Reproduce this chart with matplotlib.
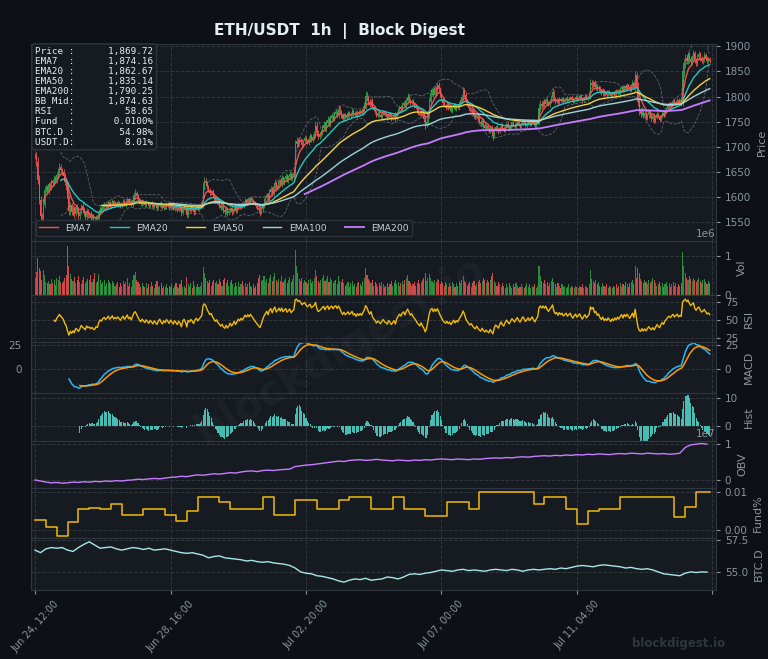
import numpy as np
import pandas as pd
import matplotlib
matplotlib.use('Agg')
import matplotlib.pyplot as plt
from matplotlib.ticker import FixedLocator, FuncFormatter

# colours
BG = '#0d1117'
PANEL = '#161b22'
GRID = '#30363d'
TXT = '#8b949e'
UP = '#2ea043'
DOWN = '#f0524f'

# hourly closes, offset from 1500
close_off = [
    182, 170, 135, 95, 62, 58, 85, 115, 120, 112, 126, 120, 132, 128, 138, 134, 145, 152, 160, 154,
    150, 143, 130, 122, 96, 72, 84, 70, 78, 66, 80, 74, 62, 70, 82, 75, 68, 60, 72, 64,
    66, 58, 62, 54, 52, 60, 56, 70, 78, 74, 82, 86, 80, 84, 90, 82, 86, 92, 84, 88,
    85, 90, 86, 82, 88, 92, 85, 90, 96, 88, 92, 86, 95, 104, 108, 102, 96, 90, 86, 92,
    88, 84, 90, 86, 82, 88, 84, 80, 86, 82, 78, 84, 88, 82, 78, 84, 80, 86, 82, 78,
    84, 80, 76, 82, 78, 74, 80, 76, 68, 78, 82, 76, 64, 78, 74, 80, 76, 70, 78, 82,
    76, 80, 84, 88, 122, 132, 128, 120, 114, 108, 112, 104, 98, 92, 96, 88, 84, 78, 82, 74,
    70, 76, 68, 72, 78, 70, 74, 80, 72, 78, 84, 80, 86, 82, 88, 94, 90, 96, 92, 98,
    94, 90, 86, 82, 78, 74, 70, 76, 84, 92, 98, 104, 98, 110, 116, 108, 120, 128, 118, 124,
    132, 126, 138, 130, 136, 142, 134, 140, 146, 138, 144, 148, 205, 212, 206, 214, 210, 204, 212, 218,
    212, 208, 216, 222, 214, 220, 226, 242, 228, 220, 224, 230, 238, 244, 236, 248, 254, 246, 258, 262,
    256, 266, 270, 264, 276, 270, 262, 256, 264, 258, 262, 268, 262, 266, 272, 264, 268, 262, 270, 266,
    272, 268, 276, 284, 302, 298, 290, 284, 292, 280, 274, 270, 262, 268, 264, 260, 266, 270, 264, 262,
    258, 266, 262, 256, 260, 264, 256, 268, 274, 280, 276, 284, 288, 282, 292, 300, 294, 288, 292, 286,
    282, 278, 272, 268, 264, 270, 262, 256, 244, 250, 266, 290, 306, 312, 304, 316, 310, 322, 314, 304,
    296, 288, 282, 278, 284, 276, 280, 272, 278, 284, 276, 282, 278, 286, 292, 300, 312, 304, 292, 284,
    278, 272, 276, 268, 262, 258, 264, 256, 250, 246, 252, 244, 238, 242, 236, 232, 238, 230, 222, 234,
    240, 236, 230, 238, 244, 236, 232, 240, 246, 240, 236, 242, 248, 244, 240, 246, 250, 244, 240, 246,
    252, 248, 242, 246, 250, 244, 248, 252, 246, 242, 248, 252, 278, 286, 282, 290, 286, 294, 288, 284,
    292, 298, 308, 296, 290, 294, 288, 296, 292, 296, 290, 294, 298, 292, 296, 300, 294, 290, 296, 300,
    294, 298, 302, 296, 292, 298, 302, 296, 300, 304, 326, 322, 328, 318, 322, 314, 318, 310, 306, 312,
    304, 308, 304, 310, 306, 302, 308, 304, 310, 306, 312, 308, 314, 318, 312, 320, 316, 322, 318, 314,
    320, 326, 318, 342, 320, 290, 272, 266, 274, 262, 268, 258, 264, 270, 262, 256, 262, 252, 258, 266,
    260, 254, 262, 268, 262, 272, 276, 282, 286, 282, 288, 292, 286, 290, 294, 288, 292, 290, 350, 366,
    376, 370, 382, 374, 368, 378, 386, 372, 366, 378, 384, 376, 370, 374, 382, 376, 370, 374, 369.72,
]

# wick length beyond the candle body, dollars
wick = [
    6, 8, 9, 9, 8, 7, 8, 6, 5, 4, 5, 4, 5, 4, 6, 4, 5, 6, 7, 5,
    5, 6, 6, 7, 9, 8, 7, 5, 6, 5, 4, 6, 7, 5, 4, 6, 5, 4, 6, 5,
    5, 6, 4, 5, 7, 4, 5, 6, 4, 3, 4, 5, 3, 4, 5, 3, 4, 5, 3, 4,
    3, 4, 3, 4, 3, 5, 3, 4, 5, 3, 4, 3, 5, 7, 8, 5, 4, 3, 3, 4,
    3, 3, 4, 2, 3, 3, 4, 3, 2, 3, 4, 2, 3, 4, 2, 3, 3, 4, 2, 3,
    3, 4, 2, 3, 4, 3, 2, 4, 5, 3, 3, 2, 6, 4, 3, 4, 2, 5, 3, 3,
    4, 3, 3, 5, 9, 8, 6, 5, 4, 5, 3, 4, 5, 4, 5, 3, 5, 4, 3, 5,
    6, 4, 5, 3, 4, 5, 3, 3, 4, 3, 4, 3, 3, 4, 3, 4, 3, 3, 4, 3,
    3, 3, 2, 3, 4, 6, 7, 4, 5, 6, 4, 5, 4, 6, 7, 5, 6, 8, 5, 4,
    5, 4, 6, 4, 5, 6, 4, 5, 6, 4, 5, 7, 9, 8, 6, 5, 4, 5, 4, 5,
    4, 3, 5, 6, 4, 5, 6, 9, 7, 5, 4, 5, 6, 7, 5, 6, 7, 5, 6, 5,
    4, 5, 6, 4, 7, 5, 4, 5, 4, 3, 3, 4, 3, 4, 5, 3, 4, 3, 4, 4,
    3, 3, 5, 6, 9, 7, 6, 5, 4, 5, 3, 4, 3, 3, 4, 3, 4, 3, 3, 3,
    4, 3, 3, 5, 3, 4, 5, 3, 4, 3, 4, 5, 3, 5, 6, 7, 5, 4, 3, 3,
    4, 3, 4, 5, 3, 4, 5, 6, 8, 5, 6, 8, 7, 5, 4, 6, 5, 7, 6, 4,
    5, 4, 3, 4, 3, 3, 4, 3, 4, 3, 3, 4, 3, 5, 4, 5, 7, 5, 4, 3,
    3, 4, 3, 4, 5, 3, 3, 4, 5, 4, 5, 6, 5, 4, 5, 4, 5, 6, 8, 5,
    4, 3, 4, 3, 3, 4, 3, 2, 3, 3, 4, 3, 2, 3, 3, 4, 3, 2, 3, 3,
    3, 2, 3, 4, 3, 3, 2, 3, 3, 4, 2, 3, 9, 7, 5, 4, 5, 3, 4, 3,
    4, 5, 8, 5, 4, 3, 4, 3, 2, 3, 3, 3, 2, 3, 3, 2, 3, 3, 2, 3,
    3, 2, 3, 3, 4, 2, 3, 3, 2, 3, 9, 6, 5, 4, 5, 3, 4, 3, 3, 4,
    3, 3, 4, 2, 3, 3, 2, 3, 3, 4, 2, 3, 4, 3, 4, 3, 5, 4, 3, 4,
    5, 6, 4, 9, 7, 9, 8, 6, 5, 4, 5, 5, 4, 6, 4, 5, 6, 5, 4, 3,
    3, 4, 3, 4, 3, 3, 4, 3, 4, 3, 3, 4, 3, 4, 3, 3, 3, 4, 9, 9,
    8, 6, 6, 7, 6, 5, 6, 5, 5, 6, 6, 5, 4, 5, 6, 5, 4, 5, 4,
]

# hourly volume, units of 1e4
vol_1e4 = [
    45, 60, 95, 70, 62, 40, 66, 52, 34, 30, 36, 28, 42, 32, 38, 26, 44, 38, 50, 34,
    30, 36, 44, 52, 128, 75, 54, 42, 36, 46, 30, 40, 50, 34, 28, 38, 46, 30, 36, 42,
    38, 52, 34, 42, 58, 30, 36, 54, 40, 28, 34, 38, 24, 30, 40, 34, 28, 36, 30, 24,
    28, 34, 22, 30, 24, 36, 28, 34, 44, 24, 30, 22, 38, 52, 60, 40, 34, 28, 22, 30,
    24, 22, 30, 18, 28, 22, 34, 24, 18, 28, 36, 22, 24, 30, 18, 24, 22, 28, 18, 24,
    22, 28, 18, 24, 30, 22, 18, 28, 40, 22, 24, 18, 46, 28, 22, 30, 18, 36, 24, 22,
    28, 22, 24, 34, 72, 58, 44, 36, 30, 38, 24, 34, 40, 30, 36, 28, 42, 34, 24, 38,
    44, 30, 38, 24, 34, 40, 28, 22, 30, 24, 34, 22, 28, 36, 24, 30, 22, 28, 34, 24,
    22, 28, 18, 24, 30, 44, 52, 36, 40, 50, 34, 42, 30, 44, 52, 36, 46, 56, 38, 34,
    42, 36, 50, 34, 40, 44, 30, 38, 46, 34, 42, 52, 118, 76, 56, 42, 36, 44, 30, 40,
    34, 28, 38, 42, 30, 36, 44, 66, 50, 36, 30, 38, 44, 52, 36, 42, 50, 34, 44, 38,
    30, 36, 40, 28, 50, 36, 34, 42, 30, 24, 28, 34, 22, 30, 36, 24, 28, 22, 30, 34,
    28, 24, 36, 44, 70, 52, 42, 36, 30, 38, 24, 34, 28, 22, 30, 24, 34, 28, 22, 24,
    30, 22, 28, 36, 24, 30, 38, 28, 34, 24, 30, 36, 28, 38, 44, 52, 36, 30, 24, 28,
    34, 24, 30, 38, 28, 34, 40, 44, 58, 36, 44, 54, 44, 36, 30, 40, 34, 42, 38, 28,
    36, 30, 24, 34, 28, 22, 30, 24, 34, 28, 22, 30, 24, 36, 30, 38, 50, 36, 30, 24,
    28, 34, 22, 30, 36, 24, 28, 34, 40, 30, 36, 44, 38, 30, 40, 34, 38, 50, 56, 36,
    30, 24, 34, 28, 22, 30, 24, 18, 28, 22, 30, 24, 18, 28, 22, 30, 24, 18, 22, 28,
    22, 18, 24, 30, 22, 28, 18, 24, 22, 28, 18, 24, 74, 50, 36, 30, 38, 28, 34, 24,
    30, 36, 44, 34, 28, 22, 30, 24, 18, 28, 22, 24, 18, 22, 28, 18, 24, 22, 18, 24,
    22, 18, 24, 22, 28, 18, 24, 22, 18, 28, 64, 42, 36, 30, 38, 28, 34, 24, 22, 30,
    24, 22, 28, 18, 24, 22, 18, 24, 22, 28, 18, 24, 30, 22, 28, 24, 34, 28, 22, 30,
    34, 38, 28, 74, 44, 70, 56, 42, 36, 30, 38, 34, 28, 40, 30, 36, 44, 38, 30, 24,
    28, 34, 24, 30, 22, 28, 34, 24, 30, 22, 28, 34, 24, 30, 22, 28, 24, 30, 112, 76,
    56, 44, 40, 50, 42, 36, 44, 38, 34, 40, 44, 36, 30, 38, 42, 34, 28, 36, 30,
]

# on-balance volume every 4 hours, units of 1e5
obv_4h = [
    0, -3, -6, -8, -7, -9, -8, -6, -7, -5, -6, -4, -5, -3, -4, -2, -3, -1, 0, 2,
    1, 3, 4, 3, 5, 7, 8, 10, 9, 12, 14, 13, 15, 17, 16, 18, 20, 19, 22, 24,
    25, 23, 26, 27, 26, 28, 29, 30, 37, 39, 41, 42, 44, 46, 48, 50, 52, 51, 54, 55,
    56, 54, 55, 57, 55, 54, 53, 55, 54, 53, 55, 54, 56, 55, 57, 58, 57, 56, 58, 57,
    56, 58, 57, 59, 60, 61, 60, 62, 61, 63, 64, 63, 65, 66, 67, 66, 68, 67, 69, 68,
    70, 69, 71, 70, 72, 71, 70, 72, 73, 72, 74, 73, 72, 74, 73, 72, 73, 71, 72, 74,
    90, 97, 99, 101, 99,
]

# BTC dominance every 4 hours, in hundredths of a percent
btcd_4h = [
    5670, 5650, 5680, 5690, 5685, 5690, 5670, 5660, 5690, 5715, 5735, 5710, 5685, 5690, 5695, 5680,
    5670, 5680, 5690, 5685, 5675, 5685, 5670, 5675, 5680, 5670, 5660, 5650, 5645, 5650, 5640, 5630,
    5610, 5620, 5625, 5610, 5605, 5600, 5595, 5585, 5590, 5580, 5575, 5580, 5570, 5565, 5560, 5550,
    5530, 5500, 5490, 5485, 5470, 5465, 5455, 5445, 5430, 5420, 5435, 5445, 5440, 5450, 5435, 5440,
    5445, 5460, 5455, 5445, 5460, 5480, 5485, 5480, 5490, 5495, 5505, 5515, 5510, 5505, 5515, 5520,
    5510, 5515, 5510, 5505, 5515, 5520, 5515, 5510, 5520, 5515, 5505, 5515, 5520, 5515, 5520, 5525,
    5520, 5530, 5525, 5535, 5545, 5550, 5545, 5540, 5550, 5555, 5550, 5545, 5540, 5530, 5535, 5525,
    5520, 5525, 5515, 5500, 5485, 5480, 5475, 5470, 5490, 5500, 5495, 5500, 5498,
]

# funding rate (%) per 8h period
fund_8h = [
    0.0026, 0.0008, -0.0015, 0.0020, 0.0054, 0.0056, 0.0054, 0.0067, 0.0040, 0.0040,
    0.0054, 0.0054, 0.0040, 0.0023, 0.0049, 0.0087, 0.0087, 0.0072, 0.0054, 0.0054,
    0.0054, 0.0087, 0.0040, 0.0040, 0.0079, 0.0079, 0.0054, 0.0054, 0.0079, 0.0087,
    0.0087, 0.0054, 0.0054, 0.0087, 0.0054, 0.0054, 0.0036, 0.0036, 0.0072, 0.0072,
    0.0054, 0.0100, 0.0100, 0.0100, 0.0100, 0.0100, 0.0067, 0.0087, 0.0087, 0.0054,
    0.0015, 0.0049, 0.0054, 0.0054, 0.0087, 0.0087, 0.0087, 0.0087, 0.0087, 0.0033,
    0.0059, 0.0100, 0.0100,
]

info_rows = [
    ('Price ', '1,869.72'), ('EMA7  ', '1,874.16'), ('EMA20 ', '1,862.67'),
    ('EMA50 ', '1,835.14'), ('EMA200', '1,790.25'), ('BB Mid', '1,874.63'),
    ('RSI   ', '58.65'), ('Fund  ', '0.0100%'), ('BTC.D ', '54.98%'), ('USDT.D', '8.01%'),
]

ema_periods = [7, 20, 50, 100, 200]
ema_colors = ['#ef5350', '#26c6bf', '#f5d142', '#9fd3d9', '#c77dff']

close = np.array(close_off, dtype=float) + 1500
volume = np.array(vol_1e4, dtype=float) * 1e4
n = len(close)
x = np.arange(n)
times = pd.date_range('2023-06-24 12:00', periods=n, freq='h')
opens = np.r_[close[0], close[:-1]]
high = np.maximum(opens, close) + np.array(wick)
low = np.minimum(opens, close) - np.array(wick)

s = pd.Series(close)
emas = [s.ewm(span=p, min_periods=p).mean() for p in ema_periods]
mid = s.rolling(20).mean()
sd = s.rolling(20).std(ddof=0)
bb_up = mid + 2 * sd
bb_lo = mid - 2 * sd

delta = s.diff()
gain = delta.clip(lower=0).ewm(alpha=1 / 14, min_periods=14).mean()
loss = (-delta.clip(upper=0)).ewm(alpha=1 / 14, min_periods=14).mean()
rsi = 100 - 100 / (1 + gain / loss)

ema12 = s.ewm(span=12, adjust=False, min_periods=12).mean()
ema26 = s.ewm(span=26, adjust=False, min_periods=26).mean()
macd = ema12 - ema26
signal = macd.ewm(span=9, adjust=False, min_periods=9).mean()
hist = macd - signal

obv = np.array(obv_4h) * 1e5
x4 = np.arange(len(obv_4h)) * 4
fund = np.repeat(fund_8h, 8)[:n]
btcd = np.array(btcd_4h) / 100
x_btcd = np.arange(len(btcd)) * 4

up = close >= opens
cols = np.where(up, UP, DOWN)

fig = plt.figure(figsize=(7.68, 6.59), dpi=100, facecolor=BG)
gs = fig.add_gridspec(8, 1, height_ratios=[197, 54, 47, 51, 48, 47, 50, 52], hspace=0,
                      left=0.0404, right=0.932, top=0.933, bottom=0.105)
axes = [fig.add_subplot(gs[0])]
for i in range(1, 8):
    axes.append(fig.add_subplot(gs[i], sharex=axes[0]))
ax_p, ax_v, ax_r, ax_m, ax_h, ax_o, ax_f, ax_b = axes

for ax in axes:
    ax.set_facecolor(PANEL)
    ax.grid(True, color=GRID, linestyle='--', linewidth=0.7)
    ax.set_axisbelow(True)
    ax.yaxis.tick_right()
    ax.yaxis.set_label_position('right')
    ax.tick_params(colors=TXT, labelsize=7.5, length=3)
    ax.yaxis.offsetText.set_color(TXT)
    ax.yaxis.offsetText.set_fontsize(7.5)
    for sp in ax.spines.values():
        sp.set_color(GRID)

# price
body_lo = np.minimum(opens, close)
body_h = np.maximum(np.abs(close - opens), 0.4)
ax_p.vlines(x, low, high, colors=cols, lw=0.6)
ax_p.bar(x, body_h, bottom=body_lo, width=0.75, color=cols, linewidth=0)
ax_p.plot(x, bb_up, color='#8b949e', lw=0.6, ls='--', alpha=0.6)
ax_p.plot(x, bb_lo, color='#8b949e', lw=0.6, ls='--', alpha=0.6)
for e, p, c in zip(emas, ema_periods, ema_colors):
    ax_p.plot(x, e, color=c, lw=1.3 if p == 200 else 1.0, label=f'EMA{p}')
ax_p.set_ylim(1513, 1904)
ax_p.set_yticks(np.arange(1550, 1901, 50))
ax_p.set_ylabel('Price', color=TXT, fontsize=8)
ax_p.legend(loc='lower left', ncol=5, fontsize=6.7, facecolor=PANEL, edgecolor=GRID,
            labelcolor='#c9d1d9', framealpha=0.9)
info = '\n'.join(f'{k}:{v:>14}' for k, v in info_rows)
ax_p.text(0.006, 0.985, info, transform=ax_p.transAxes, va='top', ha='left',
          family='DejaVu Sans Mono', fontsize=6.7, color='#e6edf3', linespacing=1.15,
          bbox=dict(boxstyle='round,pad=0.35', fc=PANEL, ec=GRID, alpha=0.95))

# volume
ax_v.bar(x, volume, width=0.8, color=cols, linewidth=0, alpha=0.85)
ax_v.set_ylim(0, 1.4e6)
ax_v.set_yticks([0, 1e6])
ax_v.set_ylabel('Vol', color=TXT, fontsize=8)

# rsi
ax_r.plot(x, rsi, color='#f0b90b', lw=1.0)
ax_r.set_ylim(19, 85)
ax_r.set_yticks([25, 50, 75])
ax_r.set_ylabel('RSI', color=TXT, fontsize=8)

# macd
ax_m.plot(x, macd, color='#29b6f6', lw=1.1)
ax_m.plot(x, signal, color='#ff9800', lw=1.1)
ax_m.set_ylim(-25, 28)
ax_m.set_yticks([0, 25])
ax_m.tick_params(labelleft=True)
ax_m.set_ylabel('MACD', color=TXT, fontsize=8)

# histogram
ax_h.bar(x, hist, width=0.8, color='#4dd0c4', linewidth=0, alpha=0.9)
ax_h.set_ylim(-5.4, 11.8)
ax_h.set_yticks([0, 10])
ax_h.set_ylabel('Hist', color=TXT, fontsize=8)

# obv
ax_o.plot(x4, obv, color='#c77dff', lw=1.0)
ax_o.set_ylim(-0.22e7, 1.08e7)
ax_o.set_yticks([0, 1e7])
ax_o.set_ylabel('OBV', color=TXT, fontsize=8)

# funding
ax_f.step(x, fund, where='post', color='#f0b90b', lw=1.1)
ax_f.set_ylim(-0.0021, 0.0110)
ax_f.set_yticks([0, 0.01])
ax_f.yaxis.set_major_formatter(FuncFormatter(lambda v, _: f'{v:.2f}'))
ax_f.set_ylabel('Fund%', color=TXT, fontsize=8)

# btc dominance
ax_b.plot(x_btcd, btcd, color='#a8e6e2', lw=1.0)
ax_b.set_ylim(53.6, 57.66)
ax_b.set_yticks([55.0, 57.5])
ax_b.set_ylabel('BTC.D', color=TXT, fontsize=8)

ax_b.set_xlim(-3, 502.5)
ax_b.xaxis.set_major_locator(FixedLocator([0, 100, 200, 300, 400, 500]))
ax_b.xaxis.set_major_formatter(FuncFormatter(
    lambda v, _: times[int(v)].strftime('%b %d, %H:%M') if 0 <= int(v) < n else ''))
for ax in axes[:-1]:
    ax.tick_params(axis='x', labelbottom=False)
ax_b.tick_params(axis='x', labelsize=7, labelrotation=48)

fig.text(0.442, 0.953, 'ETH/USDT  1h  |  Block Digest', ha='center', va='center',
         color='#e6edf3', fontsize=11, fontweight='bold')
fig.text(0.443, 0.469, 'blockdigest.io', ha='center', va='center', rotation=31,
         color='#8b949e', alpha=0.06, fontsize=30, fontweight='bold')
fig.text(0.883, 0.024, 'blockdigest.io', ha='center', va='center',
         color='#30363d', fontsize=8.5, fontweight='bold')

fig.savefig('out.png', dpi=100, facecolor=BG)
